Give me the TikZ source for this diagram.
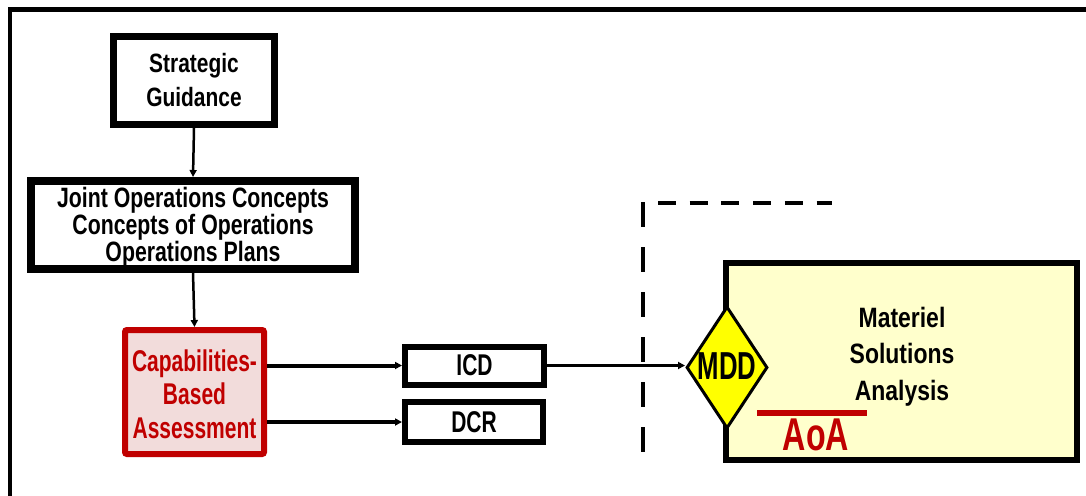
\documentclass[tikz,border=0pt]{standalone}
\usepackage{fontspec}
\usetikzlibrary{shapes.geometric,arrows.meta}
\newfontfamily\fSG[FakeStretch=0.79]{Liberation Sans Bold}
\newfontfamily\fJO[FakeStretch=0.76]{Liberation Sans Bold}
\newfontfamily\fCB[FakeStretch=0.70]{Liberation Sans Bold}
\newfontfamily\fMS[FakeStretch=0.82]{Liberation Sans Bold}
\newfontfamily\fMD[FakeStretch=0.66]{Liberation Sans Bold}
\newfontfamily\fAO[FakeStretch=0.70]{Liberation Sans Bold}
\definecolor{dred}{HTML}{C00000}
\definecolor{pink}{HTML}{F2DCDB}
\definecolor{pyel}{HTML}{FFFFCC}
\definecolor{yel}{HTML}{FFFF00}
\tikzset{
  box/.style={draw=black, rectangle, inner sep=0pt, fill=white},
  arr/.style={draw=black, -{Triangle[length=7pt,width=7pt]}},
  dsh/.style={draw=black, line width=4.5pt},
}
\begin{document}
\begin{tikzpicture}[x=1pt,y=-1pt]
\useasboundingbox (0,0) rectangle (1086,495);
\fill[white] (0,0) rectangle (1086,495);
% outer frame
\draw[line width=4.5pt] (10,500) -- (10,9.5) -- (1095,9.5);
% boxes
\node[box, line width=7pt, minimum width=161pt, minimum height=88pt] (SG) at (194,80.5) {};
\node[font=\fSG\fontsize{26.5}{34}\selectfont, align=center, inner sep=0pt] at (SG) {Strategic\\Guidance};
\node[box, line width=8pt, minimum width=324pt, minimum height=88pt] (JOC) at (193,225) {};
\node[font=\fJO\fontsize{28}{25}\selectfont, align=center, inner sep=0pt] at (193,227) {Joint Operations Concepts\\Concepts of Operations\\Operations Plans};
\node[box, draw=dred, fill=pink, line width=6pt, rounded corners=2pt, minimum width=139pt, minimum height=124pt] (CBA) at (194.5,392) {};
\node[font=\fCB\fontsize{30}{33.5}\selectfont, text=dred, align=center, inner sep=0pt] at (194.5,394) {Capabilities-\\Based\\Assessment};
\node[box, line width=6pt, minimum width=139pt, minimum height=38pt, font=\fCB\fontsize{30}{30}\selectfont] (ICD) at (474.5,365.5) {ICD};
\node[box, line width=6pt, minimum width=138pt, minimum height=40pt, font=\fCB\fontsize{30}{30}\selectfont] (DCR) at (474,422) {DCR};
% MSA box
\node[box, fill=pyel, line width=6pt, minimum width=351pt, minimum height=197pt] (MSA) at (901.5,361.5) {};
\node[font=\fMS\fontsize{28}{36.5}\selectfont, align=center, inner sep=0pt] at (902,356.5) {Materiel\\Solutions\\Analysis};
% AoA
\draw[dred, line width=6pt] (757,413) coordinate (aoaL) -- (867,413) coordinate (aoaR);
\node[font=\fAO\fontsize{46}{46}\selectfont, text=dred, anchor=base, inner sep=0pt] (AoA) at (816,450) {AoA};
% MDD diamond
\node[diamond, draw=black, fill=yel, line width=3pt, inner sep=0pt, minimum width=81pt, minimum height=122pt] (MDD) at (727,367.5) {};
\node[font=\fMD\fontsize{39}{39}\selectfont, inner sep=0pt] at (727,366) {MDD};
% dashed L
\draw[dsh, dash pattern=on 25pt off 20pt] (643,202) -- (643,453);
\draw[dsh, dash pattern=on 18pt off 13.7pt] (658,203) -- (832,203);
% arrows
\draw[arr, line width=2.5pt] (SG.south) -- (JOC.north);
\draw[arr, line width=2.5pt] (JOC.south) -- (CBA.north);
\draw[arr, line width=4pt] (CBA.east |- ICD.west) -- (ICD.west);
\draw[arr, line width=4pt] (CBA.east |- DCR.west) -- (DCR.west);
\draw[arr, line width=3.5pt] (ICD.east) -- (ICD.east -| MDD.west);
\end{tikzpicture}
\end{document}
